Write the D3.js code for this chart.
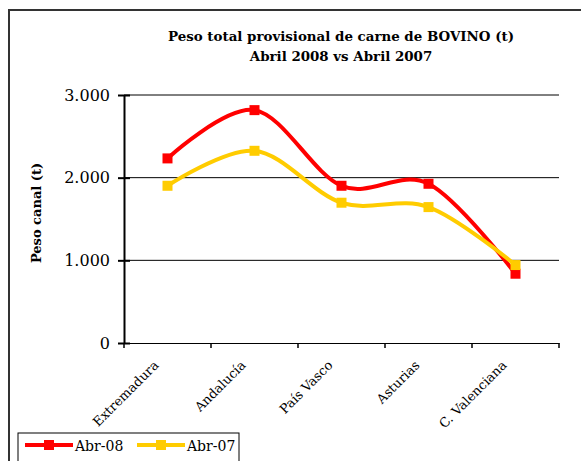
<!DOCTYPE html>
<html>
<head>
<meta charset="utf-8">
<script src="https://cdn.jsdelivr.net/npm/d3@7"></script>
<style>
  body { margin: 0; background: #fff; }
  svg { display: block; }
  text { font-family: "DejaVu Serif", "Liberation Serif", serif; fill: #000; }
</style>
</head>
<body>
<div id="chart"></div>
<script>
// datos
const regiones = ['Extremadura', 'Andalucía', 'País Vasco', 'Asturias', 'C. Valenciana'];
const abr08 = [2233, 2817, 1902, 1926, 838];
const abr07 = [1902, 2325, 1697, 1644, 943];
const yTicks = [0, 1000, 2000, 3000];
const seriesNames = ['Abr-08', 'Abr-07'];
const seriesColors = ['#ff0000', '#ffcc00'];

const width = 581, height = 461;
const margin = { top: 95, right: 22, bottom: 118, left: 124 };

const svg = d3.select('#chart').append('svg')
  .attr('width', width)
  .attr('height', height);

// marco exterior
svg.append('rect')
  .attr('x', 9).attr('y', 10)
  .attr('width', width + 10).attr('height', height + 10)
  .attr('fill', 'none')
  .attr('stroke', '#333')
  .attr('stroke-width', 2);

const x = d3.scaleBand()
  .domain(regiones)
  .range([margin.left, width - margin.right]);

const y = d3.scaleLinear()
  .domain([0, 3000])
  .range([height - margin.bottom, margin.top]);

// lineas de division
svg.append('g')
  .selectAll('line')
  .data(yTicks.slice(1))
  .enter().append('line')
  .attr('x1', margin.left).attr('x2', width - margin.right)
  .attr('y1', d => y(d)).attr('y2', d => y(d))
  .attr('stroke', '#000')
  .attr('stroke-width', 1);

// eje Y
const yAxis = svg.append('g')
  .attr('transform', `translate(${margin.left},0)`)
  .call(d3.axisLeft(y)
    .tickValues(yTicks)
    .tickSize(0)
    .tickPadding(14)
    .tickFormat(d => d === 0 ? '0' : d3.format(',')(d).replace(',', '.')));
yAxis.select('.domain').attr('stroke', '#000').attr('stroke-width', 2);
yAxis.selectAll('.tick text')
  .style('font-family', '"DejaVu Serif", serif')
  .style('font-size', '16px');
yAxis.selectAll('.tick').append('line')
  .attr('x1', -6).attr('x2', 6)
  .attr('stroke', '#000').attr('stroke-width', 2);

// eje X
const xAxis = svg.append('g')
  .attr('transform', `translate(0,${height - margin.bottom})`)
  .call(d3.axisBottom(x).tickSize(0).tickFormat(''));
xAxis.select('.domain').attr('stroke', '#000').attr('stroke-width', 1);

// marcas entre categorias
const bounds = [margin.left].concat(regiones.map(r => x(r) + x.bandwidth()));
svg.append('g')
  .selectAll('line')
  .data(bounds)
  .enter().append('line')
  .attr('x1', d => d).attr('x2', d => d)
  .attr('y1', height - margin.bottom)
  .attr('y2', height - margin.bottom + 5)
  .attr('stroke', '#000')
  .attr('stroke-width', 1.5);

// etiquetas categorias giradas
svg.append('g')
  .selectAll('text')
  .data(regiones)
  .enter().append('text')
  .attr('transform', d => `translate(${x(d) + x.bandwidth() / 2 - 8},${height - margin.bottom + 23}) rotate(-45)`)
  .attr('text-anchor', 'end')
  .style('font-size', '13px')
  .text(d => d);

// series
const line = d3.line()
  .x((d, i) => x(regiones[i]) + x.bandwidth() / 2)
  .y(d => y(d))
  .curve(d3.curveCardinal.tension(0));

[abr08, abr07].forEach((serie, k) => {
  svg.append('path')
    .datum(serie)
    .attr('d', line)
    .attr('fill', 'none')
    .attr('stroke', seriesColors[k])
    .attr('stroke-width', 4);
  svg.append('g')
    .selectAll('rect')
    .data(serie)
    .enter().append('rect')
    .attr('x', (d, i) => x(regiones[i]) + x.bandwidth() / 2 - 5)
    .attr('y', d => y(d) - 5)
    .attr('width', 10).attr('height', 10)
    .attr('fill', seriesColors[k]);
});

// titulo
const title = svg.append('text')
  .attr('x', 341)
  .attr('text-anchor', 'middle')
  .style('font-weight', 'bold')
  .style('font-size', '13.4px');
title.append('tspan').attr('x', 341).attr('y', 41).text('Peso total provisional de carne de BOVINO (t)');
title.append('tspan').attr('x', 341).attr('y', 61).text('Abril 2008 vs Abril 2007');

// titulo eje Y
svg.append('text')
  .attr('transform', 'translate(41,213) rotate(-90)')
  .attr('text-anchor', 'middle')
  .style('font-weight', 'bold')
  .style('font-size', '13px')
  .text('Peso canal (t)');

// leyenda
const legend = svg.append('g');
legend.append('rect')
  .attr('x', 18).attr('y', 433)
  .attr('width', 221).attr('height', 40)
  .attr('fill', '#fff')
  .attr('stroke', '#000')
  .attr('stroke-width', 1);
const legX = [25, 137];
seriesNames.forEach((name, k) => {
  legend.append('line')
    .attr('x1', legX[k]).attr('x2', legX[k] + 48)
    .attr('y1', 445).attr('y2', 445)
    .attr('stroke', seriesColors[k])
    .attr('stroke-width', 4);
  legend.append('rect')
    .attr('x', legX[k] + 19).attr('y', 440)
    .attr('width', 10).attr('height', 10)
    .attr('fill', seriesColors[k]);
  legend.append('text')
    .attr('x', legX[k] + 50).attr('y', 451)
    .style('font-size', '14px')
    .text(name);
});
</script>
</body>
</html>
